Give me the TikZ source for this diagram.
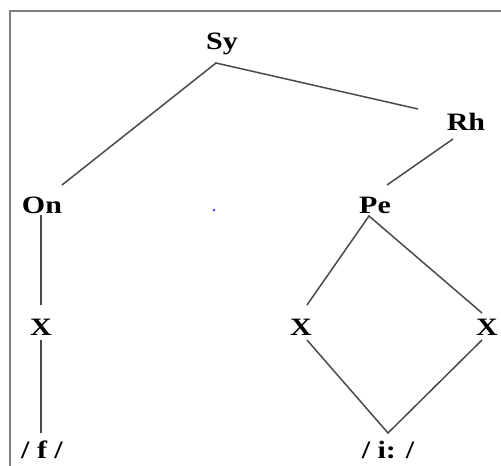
\documentclass[tikz,border=0pt]{standalone}
\usepackage{fontspec}
\newfontfamily\tf[FakeStretch=1.2]{Liberation Serif}
\usetikzlibrary{calc}
\definecolor{lin}{HTML}{4A4A4A}
\definecolor{frm}{HTML}{808080}
\definecolor{dotc}{HTML}{5050E0}
\tikzset{
  lbl/.style={inner sep=0pt, anchor=base, font=\tf\fontsize{25}{25}\selectfont\bfseries},
  conn/.style={draw=lin, line width=1.5pt},
}
\begin{document}
\begin{tikzpicture}[x=1pt,y=-1pt]
\useasboundingbox (0,0) rectangle (501,466);
\fill[white] (0,0) rectangle (501,466);
\draw[frm, line width=1.6pt] (10,470) -- (10,11) -- (505,11);
\node[lbl] (Sy) at (222,49) {Sy};
\node[lbl] (Rh) at (466,130) {Rh};
\node[lbl] (On) at (42,213) {On};
\node[lbl] (Pe) at (375,213) {Pe};
\node[lbl] (X1) at (41,335) {X};
\node[lbl] (X2) at (301,335) {X};
\node[lbl] (X3) at (487,335) {X};
\node[lbl] (f) at (42,458) {/ f /};
\node[lbl] (i) at (388,458) {/ i: /};
\fill[dotc] (214,210) circle (1.5);
\draw[conn] ($(On.base)+(20,-28)$) -- ($(Sy.base)+(-6,14)$) -- ($(Rh.base)+(-48,-21)$);
\draw[conn] ($(Rh.base)+(-13,9)$) -- ($(Pe.base)+(12,-28)$);
\draw[conn] ($(On.base)+(-1,2)$) -- ($(X1.base)+(0,-30)$);
\draw[conn] ($(X1.base)+(0,5)$) -- ($(f.base)+(-1,-25)$);
\draw[conn] ($(X2.base)+(6,-30)$) -- ($(Pe.base)+(-6,3)$) -- ($(X3.base)+(-5,-22)$);
\draw[conn] ($(X2.base)+(6,5)$) -- ($(i.base)+(0,-25)$) -- ($(X3.base)+(-5,5)$);
\end{tikzpicture}
\end{document}
